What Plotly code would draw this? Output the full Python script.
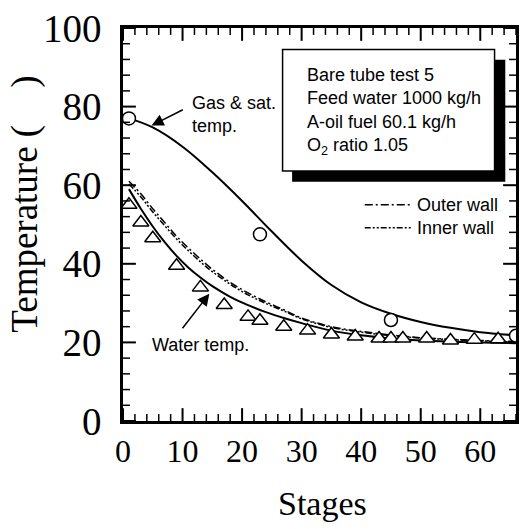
import plotly.graph_objects as go

# Measured gas & saturation temperature (circles)
gas_stage = [1, 23, 45, 66]
gas_temp = [77, 47.5, 25.7, 21.7]

# Measured water temperature (triangles)
water_stage = [1, 3, 5, 9, 13, 17, 21, 23, 27, 31, 35, 39, 43, 45, 47, 51, 55, 59, 63]
water_temp = [55, 50.5, 46.5, 39.5, 34, 29.5, 26.5, 25.5, 24, 23, 22, 21.5, 21, 21, 21, 21, 20.5, 20.7, 20.8]

# Calculated gas temperature curve
calc_gas_stage = [1, 5, 10, 15, 20, 25, 30, 35, 40, 45, 50, 55, 60, 66]
calc_gas_temp = [77, 74.7, 69.8, 63.3, 56, 48.2, 40.8, 34.6, 30.2, 27.3, 25.2, 23.7, 22.6, 21.8]

# Calculated water / wall temperature curves
calc_stage = [1, 3, 5, 7, 9, 11, 13, 15, 18, 21, 24, 27, 30, 35, 40, 45, 50, 55, 60, 66]
calc_water = [59, 54, 49.5, 45.5, 42, 39, 36.5, 34.3, 31.6, 29.5, 27.7, 26.2, 24.9, 23, 21.8, 21, 20.5, 20.2, 20, 19.8]
calc_outer = [61, 57.8, 54, 50.5, 47, 44, 41.2, 38.6, 35.3, 32.6, 30.3, 28.3, 26.2, 24, 22.8, 21.9, 21.2, 20.8, 20.5, 20.2]
calc_inner = [60.3, 57, 53.2, 49.7, 46.3, 43.3, 40.5, 38, 34.8, 32.1, 29.9, 28, 26, 23.8, 22.6, 21.7, 21.1, 20.7, 20.4, 20.1]

# Axis ranges and tick values
X_RANGE = [0, 66]
Y_RANGE = [0, 100]
x_major = [0, 10, 20, 30, 40, 50, 60]
x_minor = [v for v in range(0, 67, 2) if v not in x_major]
y_major = [0, 20, 40, 60, 80, 100]
y_minor = [v for v in range(0, 101, 4) if v not in y_major]

OUTER_DASH = "8px,3px,2px,3px"
INNER_DASH = "6px,2px,2px,2px,2px,2px"

SERIF = "Liberation Serif"
SANS = "Liberation Sans"

W, H = 526, 529
MARGIN = dict(l=123, r=7, t=23, b=108)
PLOT_W = W - MARGIN["l"] - MARGIN["r"]
PLOT_H = H - MARGIN["t"] - MARGIN["b"]
X_PER_PX = (X_RANGE[1] - X_RANGE[0]) / PLOT_W
Y_PER_PX = (Y_RANGE[1] - Y_RANGE[0]) / PLOT_H
MAJOR_LEN, MINOR_LEN = 13, 7  # tick lengths in pixels

fig = go.Figure()

fig.add_trace(go.Scatter(x=calc_gas_stage, y=calc_gas_temp, mode="lines",
                         line=dict(color="black", width=2, shape="spline"),
                         showlegend=False))
fig.add_trace(go.Scatter(x=calc_stage, y=calc_water, mode="lines",
                         line=dict(color="black", width=2, shape="spline"),
                         showlegend=False))
fig.add_trace(go.Scatter(x=calc_stage, y=calc_outer, mode="lines",
                         line=dict(color="black", width=1.5, dash=OUTER_DASH, shape="spline"),
                         showlegend=False))
fig.add_trace(go.Scatter(x=calc_stage, y=calc_inner, mode="lines",
                         line=dict(color="black", width=1.5, dash=INNER_DASH, shape="spline"),
                         showlegend=False))
fig.add_trace(go.Scatter(x=water_stage, y=water_temp, mode="markers",
                         marker=dict(symbol="triangle-up", size=14, color="white",
                                     line=dict(color="black", width=1.5)),
                         showlegend=False))
fig.add_trace(go.Scatter(x=gas_stage, y=gas_temp, mode="markers",
                         marker=dict(symbol="circle", size=13, color="white",
                                     line=dict(color="black", width=1.5)),
                         showlegend=False))


# Inward tick marks on all four sides of the frame, drawn as line segments
def tick_segments(xvals, yvals, length_px):
    xs, ys = [], []
    dy = length_px * Y_PER_PX
    dx = length_px * X_PER_PX
    for v in xvals:
        xs += [v, v, None, v, v, None]
        ys += [Y_RANGE[0], Y_RANGE[0] + dy, None, Y_RANGE[1], Y_RANGE[1] - dy, None]
    for v in yvals:
        xs += [X_RANGE[0], X_RANGE[0] + dx, None, X_RANGE[1], X_RANGE[1] - dx, None]
        ys += [v, v, None, v, v, None]
    return xs, ys


for xv, yv, ln, lw in ((x_major, y_major, MAJOR_LEN, 2), (x_minor, y_minor, MINOR_LEN, 1.5)):
    tx, ty = tick_segments(xv, yv, ln)
    fig.add_trace(go.Scatter(x=tx, y=ty, mode="lines",
                             line=dict(color="black", width=lw), showlegend=False))

# Conditions box with drop shadow
fig.add_shape(type="rect", xref="x", yref="y", x0=28.4, x1=64.2, y0=60.9, y1=91.9,
              fillcolor="black", line=dict(color="black", width=0), layer="above")
fig.add_shape(type="rect", xref="x", yref="y", x0=26.8, x1=62.4, y0=63.6, y1=94.5,
              fillcolor="white", line=dict(color="black", width=1.5), layer="above")
fig.add_annotation(x=30.6, y=78.7, xref="x", yref="y", xanchor="left", yanchor="middle",
                   align="left", showarrow=False,
                   text="Bare tube test 5<br>Feed water 1000 kg/h<br>A-oil fuel 60.1 kg/h<br>O<sub>2</sub> ratio 1.05",
                   font=dict(family=SANS, size=18, color="black"))

# Line-style key for the wall curves
fig.add_shape(type="line", xref="x", yref="y", x0=40.6, x1=48.4, y0=55.0, y1=55.0,
              line=dict(color="black", width=1.5, dash=OUTER_DASH))
fig.add_shape(type="line", xref="x", yref="y", x0=40.6, x1=48.4, y0=49.2, y1=49.2,
              line=dict(color="black", width=1.5, dash=INNER_DASH))
fig.add_annotation(x=49.0, y=55.0, xref="x", yref="y", xanchor="left", yanchor="middle",
                   showarrow=False, text="Outer wall",
                   font=dict(family=SANS, size=18, color="black"))
fig.add_annotation(x=49.0, y=49.2, xref="x", yref="y", xanchor="left", yanchor="middle",
                   showarrow=False, text="Inner wall",
                   font=dict(family=SANS, size=18, color="black"))

# Curve labels with arrows
fig.add_annotation(x=11.2, y=78.0, xref="x", yref="y", xanchor="left", yanchor="middle",
                   align="left", showarrow=False, text="Gas &amp; sat.<br>temp.",
                   font=dict(family=SANS, size=18, color="black"))
fig.add_annotation(x=4.8, y=75.2, ax=10.3, ay=79.4, xref="x", yref="y", axref="x", ayref="y",
                   text="", showarrow=True, arrowhead=2, arrowsize=1.6, arrowwidth=1.5,
                   arrowcolor="black")
fig.add_annotation(x=4.6, y=19.3, xref="x", yref="y", xanchor="left", yanchor="middle",
                   showarrow=False, text="Water temp.",
                   font=dict(family=SANS, size=18, color="black"))
fig.add_annotation(x=14.5, y=32.4, ax=9.8, ay=23.2, xref="x", yref="y", axref="x", ayref="y",
                   text="", showarrow=True, arrowhead=2, arrowsize=1.6, arrowwidth=1.5,
                   arrowcolor="black")

# Axis titles
fig.add_annotation(x=-0.25, y=0.552, xref="paper", yref="paper", xanchor="center", yanchor="middle",
                   textangle=-90, showarrow=False, text="Temperature (\u3000)",
                   font=dict(family=SERIF, size=37, color="black"))
fig.add_annotation(x=0.508, y=-0.21, xref="paper", yref="paper", xanchor="center", yanchor="middle",
                   showarrow=False, text="Stages",
                   font=dict(family=SERIF, size=34, color="black"))

fig.update_xaxes(range=X_RANGE, tickmode="array", tickvals=x_major,
                 ticktext=[str(v) for v in x_major], ticks="", ticklabelstandoff=0,
                 showgrid=False, zeroline=False, showline=True, linewidth=2.5,
                 linecolor="black", mirror=True,
                 tickfont=dict(family=SERIF, size=32, color="black"))
fig.update_yaxes(range=Y_RANGE, tickmode="array", tickvals=y_major,
                 ticktext=[str(v) for v in y_major], ticks="", ticklabelstandoff=11,
                 showgrid=False, zeroline=False, showline=True, linewidth=2.5,
                 linecolor="black", mirror=True,
                 tickfont=dict(family=SERIF, size=39, color="black"))

fig.update_layout(width=W, height=H, margin=MARGIN,
                  paper_bgcolor="white", plot_bgcolor="white", showlegend=False)

fig.write_html("out.html")
